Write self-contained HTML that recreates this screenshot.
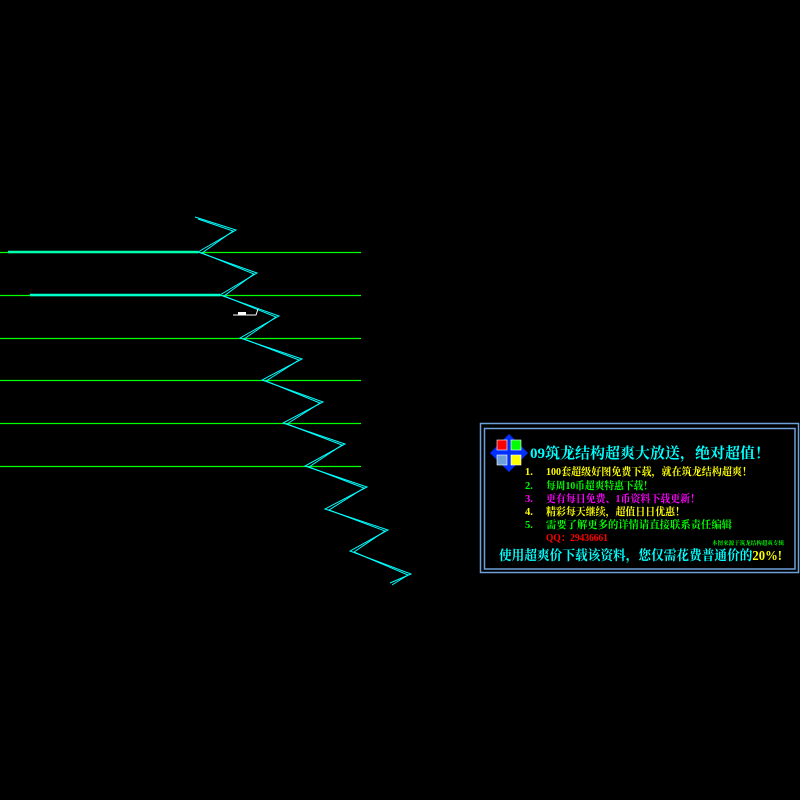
<!DOCTYPE html>
<html><head><meta charset="utf-8"><style>
html,body{margin:0;padding:0;background:#000;width:800px;height:800px;overflow:hidden}
svg{display:block}
text{font-family:"Liberation Serif","Noto Serif CJK SC","WenQuanYi Zen Hei",serif;font-weight:bold}
</style></head><body>
<svg width="800" height="800" viewBox="0 0 800 800" xmlns="http://www.w3.org/2000/svg">
<rect width="800" height="800" fill="#000"/>
<g stroke="#00ff00" stroke-width="1.3">
<line x1="0" y1="252.5" x2="361" y2="252.5"/>
<line x1="0" y1="295.5" x2="361" y2="295.5"/>
<line x1="0" y1="338.5" x2="361" y2="338.5"/>
<line x1="0" y1="380.5" x2="361" y2="380.5"/>
<line x1="0" y1="423.5" x2="361" y2="423.5"/>
<line x1="0" y1="466.5" x2="361" y2="466.5"/>
</g>
<line x1="8" y1="252" x2="198" y2="252" stroke="#00ffb0" stroke-width="2.5"/>
<line x1="30" y1="295" x2="220" y2="295" stroke="#00ffcc" stroke-width="2.5"/>
<g fill="none" stroke="#00ffff" stroke-width="1">
<polyline points="195,217 236,230 198,252 257,273 220,295 279,316 240,338 302,359 262,380 323,402 283,423 345,444 305,466 367,487 325,509 388,530 350,551 411,574 390,583"/>
<polyline points="198,219 233,231 202,253 254,274 224,296 276,317 244,339 299,360 266,381 320,403 287,424 342,445 309,467 364,488 329,510 385,531 354,552 408,575 392,585"/>
</g>
<path d="M233,315 H256 L258,309" stroke="#fff" fill="none" stroke-width="1"/>
<rect x="238" y="312" width="8" height="3" fill="#fff"/>
<rect x="480.5" y="423.5" width="318" height="149" fill="none" stroke="#6f9fd8" stroke-width="1.5"/>
<rect x="484.5" y="428.5" width="310.5" height="140.5" fill="none" stroke="#6f9fd8" stroke-width="1.5"/>
<polygon points="509,434 528,453 509,472 490,453" fill="#0030ff"/>
<rect x="497" y="440" width="10" height="10" fill="#ff0000" stroke="#fff" stroke-width="0.6"/>
<rect x="511" y="440" width="10" height="10" fill="#00ff00" stroke="#fff" stroke-width="0.6"/>
<rect x="497" y="455" width="10" height="10" fill="#6f9fd8" stroke="#fff" stroke-width="0.6"/>
<rect x="511" y="455" width="10" height="10" fill="#ffff00" stroke="#fff" stroke-width="0.6"/>
<text x="530" y="458" font-size="15" fill="#00ffff" textLength="240" lengthAdjust="spacingAndGlyphs">09筑龙结构超爽大放送，绝对超值！</text>
<g font-size="10.5">
<text x="525" y="475" fill="#ffff00">1.</text><text x="546" y="475" fill="#ffff00" textLength="206" lengthAdjust="spacingAndGlyphs">100套超级好图免费下载，就在筑龙结构超爽！</text>
<text x="525" y="489" fill="#00ff00">2.</text><text x="546" y="489" fill="#00ff00" textLength="107" lengthAdjust="spacingAndGlyphs">每周10币超爽特惠下载！</text>
<text x="525" y="502" fill="#ff00ff">3.</text><text x="546" y="502" fill="#ff00ff" textLength="154" lengthAdjust="spacingAndGlyphs">更有每日免费、1币资料下载更新！</text>
<text x="525" y="515" fill="#ffff00">4.</text><text x="546" y="515" fill="#ffff00" textLength="139" lengthAdjust="spacingAndGlyphs">精彩每天继续，超值日日优惠！</text>
<text x="525" y="528" fill="#00ff00">5.</text><text x="546" y="528" fill="#00ff00" textLength="186" lengthAdjust="spacingAndGlyphs">需要了解更多的详情请直接联系责任编辑</text>
<text x="546" y="541" fill="#ff0000" textLength="62" lengthAdjust="spacingAndGlyphs">QQ：29436661</text>
</g>
<text x="712" y="545" font-size="5.5" fill="#00ff00" textLength="72" lengthAdjust="spacingAndGlyphs">本图来源于筑龙结构超爽专辑</text>
<text x="499" y="560" font-size="13.5" fill="#00ffff" textLength="283" lengthAdjust="spacingAndGlyphs">使用超爽价下载该资料，您仅需花费普通价的<tspan fill="#ffff00">20%!</tspan></text>
</svg>
</body></html>
